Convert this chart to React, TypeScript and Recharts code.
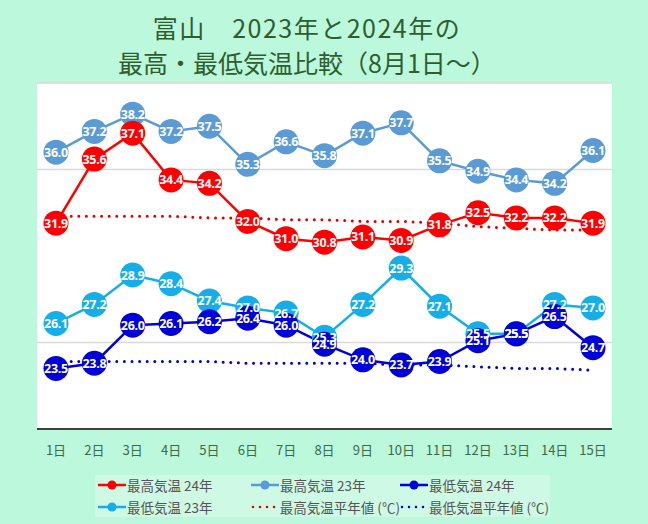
import { LineChart, Line, XAxis, YAxis, CartesianGrid, LabelList } from 'recharts';

// 8月1日〜15日 の日付
const days = ['1日', '2日', '3日', '4日', '5日', '6日', '7日', '8日', '9日', '10日', '11日', '12日', '13日', '14日', '15日'];

// 最高気温 (℃)
const max2024 = [31.9, 35.6, 37.1, 34.4, 34.2, 32.0, 31.0, 30.8, 31.1, 30.9, 31.8, 32.5, 32.2, 32.2, 31.9];
const max2023 = [36.0, 37.2, 38.2, 37.2, 37.5, 35.3, 36.6, 35.8, 37.1, 37.7, 35.5, 34.9, 34.4, 34.2, 36.1];

// 最低気温 (℃)
const min2024 = [23.5, 23.8, 26.0, 26.1, 26.2, 26.4, 26.0, 24.9, 24.0, 23.7, 23.9, 25.1, 25.5, 26.5, 24.7];
const min2023 = [26.1, 27.2, 28.9, 28.4, 27.4, 27.0, 26.7, 25.3, 27.2, 29.3, 27.1, 25.5, 25.5, 27.2, 27.0];

// 平年値 (℃)
const maxNormal = [32.3, 32.3, 32.3, 32.3, 32.2, 32.2, 32.1, 32.1, 32.0, 32.0, 31.9, 31.7, 31.6, 31.5, 31.5];
const minNormal = [23.9, 23.9, 23.9, 23.9, 23.9, 23.8, 23.8, 23.8, 23.8, 23.7, 23.7, 23.6, 23.5, 23.5, 23.4];

const yDomain = [20, 40];
const gridTicks = [25, 35];

const COLORS = {
  max2024: '#ff0000',
  max2023: '#5b9bd5',
  min2024: '#0000d8',
  min2023: '#16aee8',
  maxNormal: '#e00000',
  minNormal: '#0000c8',
};

const legendItems = [
  { key: 'max2024', name: '最高気温 24年', dotted: false },
  { key: 'max2023', name: '最高気温 23年', dotted: false },
  { key: 'min2024', name: '最低気温 24年', dotted: false },
  { key: 'min2023', name: '最低気温 23年', dotted: false },
  { key: 'maxNormal', name: '最高気温平年値 (℃)', dotted: true },
  { key: 'minNormal', name: '最低気温平年値 (℃)', dotted: true },
];

const data = days.map((day, i) => ({
  day,
  max2024: max2024[i],
  max2023: max2023[i],
  min2024: min2024[i],
  min2023: min2023[i],
  maxNormal: maxNormal[i],
  minNormal: minNormal[i],
}));

const FONT = '"Noto Sans CJK JP", "Noto Sans", sans-serif';

// white value inside each marker
const renderValue = (props: any) => {
  const { x, y, value } = props;
  if (value == null) return null;
  return (
    <text
      x={x}
      y={y}
      dy="0.36em"
      textAnchor="middle"
      fill="#ffffff"
      fontSize={12.5}
      fontWeight="bold"
      fontFamily='"Noto Sans", sans-serif'
      letterSpacing={-0.3}
    >
      {Number(value).toFixed(1)}
    </text>
  );
};

function LegendIcon({ color, dotted }: { color: string; dotted: boolean }) {
  return (
    <svg width={28} height={10} style={{ display: 'block' }}>
      {dotted ? (
        <line x1={2} y1={5} x2={26} y2={5} stroke={color} strokeWidth={2.5}
          strokeDasharray="0 7" strokeLinecap="round" />
      ) : (
        <>
          <line x1={0} y1={5} x2={28} y2={5} stroke={color} strokeWidth={2.5} />
          <circle cx={14} cy={5} r={4.5} fill={color} />
        </>
      )}
    </svg>
  );
}

export default function App() {
  const seriesLine = (key: keyof typeof COLORS) => (
    <Line
      key={key}
      type="linear"
      dataKey={key}
      stroke={COLORS[key]}
      strokeWidth={2.5}
      dot={{ r: 12.5, fill: COLORS[key], stroke: COLORS[key], strokeWidth: 0 }}
      activeDot={false}
      isAnimationActive={false}
    />
  );

  // labels drawn in a separate pass so they sit above every marker
  const labelLine = (key: keyof typeof COLORS) => (
    <Line
      key={`${key}-label`}
      dataKey={key}
      stroke="none"
      dot={false}
      activeDot={false}
      legendType="none"
      isAnimationActive={false}
    >
      <LabelList dataKey={key} content={renderValue} />
    </Line>
  );

  return (
    <div
      style={{
        position: 'absolute',
        left: 0,
        top: 0,
        width: 648,
        height: 524,
        background: '#bbf8dc',
        fontFamily: FONT,
      }}
    >
      <div
        style={{
          position: 'absolute',
          left: 0,
          top: 10,
          width: 614,
          textAlign: 'center',
          color: '#2e5e2e',
          fontSize: 25,
          lineHeight: '35px',
        }}
      >
        <div style={{ letterSpacing: 1.5 }}>富山　2023年と2024年の</div>
        <div>最高・最低気温比較（8月1日～）</div>
      </div>

      <LineChart
        width={648}
        height={524}
        data={data}
        margin={{ top: 83, right: 36, bottom: 65, left: 37 }}
        style={{ position: 'absolute', left: 0, top: 0 }}
      >
        <CartesianGrid vertical={false} stroke="#d9d9d9" strokeWidth={1.5} fill="#ffffff" />
        <XAxis
          dataKey="day"
          height={30}
          interval={0}
          padding={{ left: 19, right: 19 }}
          axisLine={{ stroke: '#404040', strokeWidth: 2 }}
          tickLine={false}
          tickSize={0}
          tickMargin={17}
          tick={{ fill: '#3b6b47', fontSize: 13, fontFamily: FONT }}
        />
        <YAxis hide type="number" domain={yDomain} ticks={gridTicks} />

        <Line
          dataKey="maxNormal"
          stroke={COLORS.maxNormal}
          strokeWidth={3}
          strokeDasharray="0 7.6"
          strokeLinecap="round"
          dot={false}
          activeDot={false}
          isAnimationActive={false}
        />
        <Line
          dataKey="minNormal"
          stroke={COLORS.minNormal}
          strokeWidth={3}
          strokeDasharray="0 7.6"
          strokeLinecap="round"
          dot={false}
          activeDot={false}
          isAnimationActive={false}
        />

        {seriesLine('max2023')}
        {seriesLine('min2023')}
        {seriesLine('max2024')}
        {seriesLine('min2024')}

        {labelLine('max2023')}
        {labelLine('min2023')}
        {labelLine('max2024')}
        {labelLine('min2024')}
      </LineChart>

      <div
        style={{
          position: 'absolute',
          left: 95,
          top: 475,
          width: 455,
          height: 42,
          background: '#cef9e5',
        }}
      />
      <div
        style={{
          position: 'absolute',
          left: 98,
          top: 474,
          display: 'grid',
          gridTemplateColumns: '153px 149px 160px',
          gridAutoRows: '22px',
          color: '#555555',
          fontSize: 13.5,
        }}
      >
        {legendItems.map((item) => (
          <div key={item.key} style={{ display: 'flex', alignItems: 'center', whiteSpace: 'nowrap' }}>
            <LegendIcon color={COLORS[item.key as keyof typeof COLORS]} dotted={item.dotted} />
            <span style={{ marginLeft: 1 }}>{item.name}</span>
          </div>
        ))}
      </div>
    </div>
  );
}
